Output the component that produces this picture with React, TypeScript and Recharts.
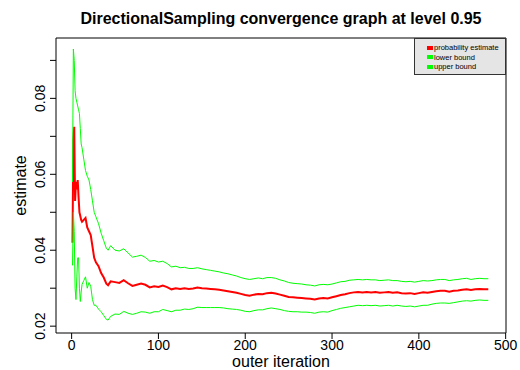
import { LineChart, Line, XAxis, YAxis, ReferenceArea } from 'recharts'

// outer iterations where the estimate was recorded
const iterations = [
  1, 2, 3, 4, 5, 6, 7, 8, 9, 10, 11, 12, 14, 16, 18, 20, 22, 24, 26, 28, 31, 34, 37, 40, 42, 45,
  50, 55, 60, 65, 70, 75, 80, 85, 90, 95, 100, 105, 110, 115, 120, 125, 130, 135, 140, 145,
  150, 155, 160, 165, 170, 175, 180, 185, 190, 195, 200, 205, 210, 215, 220, 225, 230, 235, 240, 245,
  250, 255, 260, 265, 270, 275, 280, 285, 290, 295, 300, 305, 310, 315, 320, 325, 330, 335, 340, 345,
  350, 355, 360, 365, 370, 375, 380, 385, 390, 395, 400, 405, 410, 415, 420, 425, 430, 435, 440, 445,
  450, 455, 460, 465, 470, 475, 480,
]

const estimate = [
  0.0420, 0.0690, 0.0725, 0.0530, 0.0580, 0.0560, 0.0585, 0.0540, 0.0500, 0.0490, 0.0480, 0.0475, 0.0480,
  0.0485, 0.0460, 0.0450, 0.0440, 0.0410, 0.0380, 0.0368, 0.0358, 0.0340, 0.0328, 0.0312, 0.0308, 0.0318,
  0.0316, 0.0314, 0.0321, 0.0313, 0.0306, 0.0309, 0.0312, 0.0309, 0.0302, 0.0305, 0.0303, 0.0307, 0.0303, 0.0297,
  0.0300, 0.0298, 0.0300, 0.0298, 0.0299, 0.0302,
  0.0300, 0.0299, 0.0298, 0.0297, 0.0296, 0.0294, 0.0292, 0.0290, 0.0288, 0.0285, 0.0282, 0.0280, 0.0283, 0.0285,
  0.0284, 0.0287, 0.0288, 0.0286, 0.0283, 0.0280,
  0.0277, 0.0276, 0.0275, 0.0274, 0.0273, 0.0272, 0.0270, 0.0273, 0.0274, 0.0273, 0.0276, 0.0279, 0.0282, 0.0284,
  0.0287, 0.0289, 0.0290, 0.0289, 0.0290, 0.0289,
  0.0290, 0.0288, 0.0289, 0.0290, 0.0288, 0.0289, 0.0287, 0.0286, 0.0287, 0.0285, 0.0287, 0.0289, 0.0288, 0.0290,
  0.0292, 0.0293, 0.0293, 0.0291, 0.0293, 0.0294,
  0.0296, 0.0297, 0.0295, 0.0297, 0.0298, 0.0297, 0.0297,
]

const lowerBound = [
  0.0360, 0.0500, 0.0450, 0.0300, 0.0270, 0.0330, 0.0380, 0.0380, 0.0300, 0.0265, 0.0290, 0.0310, 0.0320,
  0.0330, 0.0300, 0.0315, 0.0305, 0.0270, 0.0255, 0.0255, 0.0245, 0.0238, 0.0228, 0.0218, 0.0216, 0.0226,
  0.0232, 0.0231, 0.0239, 0.0234, 0.0231, 0.0234, 0.0238, 0.0237, 0.0234, 0.0238, 0.0238, 0.0244, 0.0241, 0.0238,
  0.0242, 0.0242, 0.0245, 0.0244, 0.0246, 0.0250,
  0.0249, 0.0249, 0.0249, 0.0249, 0.0249, 0.0248, 0.0246, 0.0245, 0.0244, 0.0242, 0.0239, 0.0238, 0.0241, 0.0243,
  0.0243, 0.0246, 0.0248, 0.0246, 0.0244, 0.0241,
  0.0239, 0.0238, 0.0238, 0.0237, 0.0237, 0.0236, 0.0234, 0.0237, 0.0238, 0.0237, 0.0241, 0.0244, 0.0247, 0.0249,
  0.0251, 0.0253, 0.0255, 0.0254, 0.0255, 0.0254,
  0.0255, 0.0253, 0.0254, 0.0255, 0.0253, 0.0255, 0.0253, 0.0252, 0.0253, 0.0251, 0.0253, 0.0255, 0.0255, 0.0258,
  0.0260, 0.0261, 0.0261, 0.0260, 0.0262, 0.0264,
  0.0266, 0.0267, 0.0266, 0.0268, 0.0269, 0.0268, 0.0268,
]

const upperBound = [
  0.0580, 0.0930, 0.0900, 0.0820, 0.0800, 0.0790, 0.0780, 0.0770, 0.0760, 0.0720, 0.0680, 0.0670, 0.0640,
  0.0610, 0.0595, 0.0585, 0.0560, 0.0530, 0.0500, 0.0488, 0.0470, 0.0445, 0.0425, 0.0405, 0.0400, 0.0412,
  0.0400, 0.0398, 0.0404, 0.0393, 0.0382, 0.0384, 0.0387, 0.0381, 0.0371, 0.0373, 0.0369, 0.0371, 0.0365, 0.0356,
  0.0358, 0.0354, 0.0355, 0.0352, 0.0352, 0.0354,
  0.0351, 0.0349, 0.0347, 0.0345, 0.0343, 0.0340, 0.0338, 0.0335, 0.0332, 0.0328, 0.0325, 0.0323, 0.0325, 0.0327,
  0.0325, 0.0328, 0.0328, 0.0326, 0.0322, 0.0319,
  0.0315, 0.0313, 0.0312, 0.0311, 0.0309, 0.0308, 0.0306, 0.0309, 0.0310, 0.0309, 0.0311, 0.0314, 0.0317, 0.0318,
  0.0321, 0.0322, 0.0323, 0.0322, 0.0323, 0.0322,
  0.0322, 0.0320, 0.0321, 0.0322, 0.0320, 0.0320, 0.0318, 0.0317, 0.0318, 0.0316, 0.0318, 0.0320, 0.0319, 0.0320,
  0.0322, 0.0323, 0.0323, 0.0320, 0.0322, 0.0323,
  0.0325, 0.0326, 0.0323, 0.0325, 0.0326, 0.0325, 0.0325,
]

const xTicks = [0, 100, 200, 300, 400, 500]
const yTicks = [0.02, 0.03, 0.04, 0.05, 0.06, 0.07, 0.08, 0.09]
const yLabels = ['0.02', '0.04', '0.06', '0.08']

const legendItems = [
  { name: 'probability estimate', color: '#FF0000' },
  { name: 'lower bound', color: '#00FF00' },
  { name: 'upper bound', color: '#00FF00' },
]

const X_DOMAIN = [-18, 500.4]
const Y_DOMAIN = [0.0182, 0.0959]

const data = iterations.map((it, i) => ({
  it, est: estimate[i], lo: lowerBound[i], up: upperBound[i],
}))

// eslint-disable-next-line @typescript-eslint/no-explicit-any
const YTick = ({ y, payload }: any) => {
  const label = Number(payload.value).toFixed(2)
  if (!yLabels.includes(label)) return <g />
  return (
    <text x={45.5} y={y} transform={`rotate(-90 45.5 ${y})`} textAnchor="middle" fontSize={14} fill="#000">
      {label}
    </text>
  )
}

// eslint-disable-next-line @typescript-eslint/no-explicit-any
const YTitle = ({ viewBox }: any) => {
  const cy = viewBox ? viewBox.y + viewBox.height / 2 : 185.5
  return (
    <text x={25.5} y={cy} transform={`rotate(-90 25.5 ${cy})`} textAnchor="middle" fontSize={16} fill="#000">
      estimate
    </text>
  )
}

export default function App() {
  return (
    <div style={{ position: 'absolute', left: 0, top: 0, width: 520, height: 370, background: '#fff', fontFamily: '"Liberation Sans", Arial, sans-serif' }}>
      <div style={{ position: 'absolute', left: 41, top: 10.5, width: 480, textAlign: 'center', fontSize: 16, lineHeight: '16px', fontWeight: 'bold', color: '#000' }}>
        DirectionalSampling convergence graph at level 0.95
      </div>
      <LineChart width={520} height={370} data={data} margin={{ top: 38, right: 14, left: 0, bottom: 0 }}>
        <XAxis
          dataKey="it" type="number" domain={X_DOMAIN} ticks={xTicks} interval={0}
          allowDataOverflow height={37} axisLine={false}
          tickLine={{ stroke: '#000' }} tickSize={6} tickMargin={1}
          tick={{ fontSize: 14, fill: '#000' }}
          label={{ value: 'outer iteration', position: 'insideBottom', offset: 3, fontSize: 16, fill: '#000' }}
        />
        <YAxis
          type="number" domain={Y_DOMAIN} ticks={yTicks} interval={0}
          allowDataOverflow width={56} axisLine={false}
          tickLine={{ stroke: '#000' }} tickSize={6}
          tick={<YTick />}
          label={<YTitle />}
        />
        <Line type="linear" dataKey="est" stroke="#FF0000" strokeWidth={2} dot={false} isAnimationActive={false} />
        <Line type="linear" dataKey="lo" stroke="#00FF00" strokeWidth={1} dot={false} isAnimationActive={false} />
        <Line type="linear" dataKey="up" stroke="#00FF00" strokeWidth={1} dot={false} isAnimationActive={false} />
        <ReferenceArea x1={X_DOMAIN[0]} x2={X_DOMAIN[1]} y1={Y_DOMAIN[0]} y2={Y_DOMAIN[1]} fill="none" stroke="#000" strokeWidth={1} />
      </LineChart>
      <div style={{ position: 'absolute', left: 414, top: 38, width: 92, height: 37, boxSizing: 'border-box', background: '#E5E5E5', border: '1px solid #333' }}>
        {legendItems.map((item, i) => (
          <div key={item.name} style={{ position: 'absolute', left: 12, top: 4 + i * 9.6, height: 9, display: 'flex', alignItems: 'center', fontSize: 7.5, lineHeight: '9px', color: '#000', whiteSpace: 'nowrap' }}>
            <span style={{ display: 'inline-block', width: 6, height: 4, background: item.color, marginRight: 1 }} />
            {item.name}
          </div>
        ))}
      </div>
    </div>
  )
}
